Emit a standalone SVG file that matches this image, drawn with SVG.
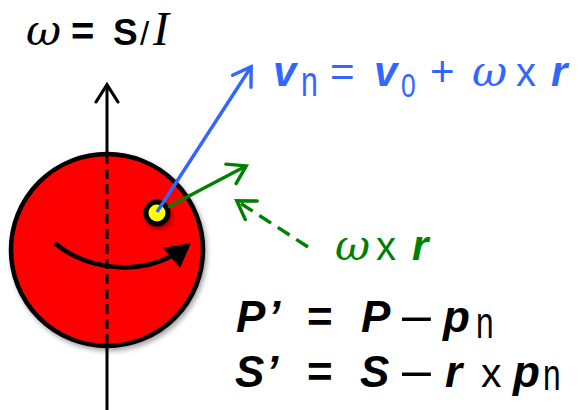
<svg xmlns="http://www.w3.org/2000/svg" width="579" height="410" viewBox="0 0 579 410">
<style>
.sans{font-family:"Liberation Sans",Arial,sans-serif}
.serif{font-family:"Liberation Serif","Times New Roman",serif}
.greek{font-family:"DejaVu Serif","Liberation Serif",serif;font-style:italic}
.bi{font-weight:bold;font-style:italic}
.b{font-weight:bold}
.it{font-style:italic}
.blue{fill:#3366FF}
.green{fill:#008000}
.blk{fill:#000}
</style>
<defs>
<filter id="sh" x="-20%" y="-20%" width="150%" height="150%">
<feDropShadow dx="2" dy="3" stdDeviation="2.5" flood-color="#000" flood-opacity="0.35"/>
</filter>
<marker id="aBlack" markerUnits="userSpaceOnUse" viewBox="0 0 20 24" refX="17" refY="12" markerWidth="20" markerHeight="24" orient="auto" overflow="visible">
<path d="M0,1 L17.3,12 L0,23" fill="none" stroke="#000" stroke-width="3.2" stroke-linecap="round"/>
</marker>
<marker id="aBlue" markerUnits="userSpaceOnUse" viewBox="0 0 20 24" refX="17" refY="12" markerWidth="20" markerHeight="24" orient="auto" overflow="visible">
<path d="M0,1 L17.3,12 L0,23" fill="none" stroke="#3366FF" stroke-width="3.4" stroke-linecap="round"/>
</marker>
<marker id="aGreen" markerUnits="userSpaceOnUse" viewBox="0 0 20 24" refX="17" refY="12" markerWidth="20" markerHeight="24" orient="auto" overflow="visible">
<path d="M0,1 L17.3,12 L0,23" fill="none" stroke="#008000" stroke-width="3.4" stroke-linecap="round"/>
</marker>
</defs>

<g id="body">
<circle cx="107" cy="250" r="96" fill="#FF0000" stroke="#000" stroke-width="4.5" filter="url(#sh)"/>
</g>

<g id="axis">
<line x1="107" y1="152" x2="107" y2="85" stroke="#000" stroke-width="3" marker-end="url(#aBlack)"/>
<line x1="107" y1="154" x2="107" y2="346" stroke="#000" stroke-width="3" stroke-dasharray="10 5"/>
<line x1="107" y1="348" x2="107" y2="410" stroke="#000" stroke-width="3"/>
</g>

<g id="rotation">
<path d="M55,243 C80,265 130,278 172,256" fill="none" stroke="#000" stroke-width="4.5"/>
<polygon points="191,243 163,248 180,268" fill="#000"/>
</g>

<g id="point">
<circle cx="157" cy="213" r="11" fill="#FFFF00" stroke="#000" stroke-width="5" filter="url(#sh)"/>
</g>

<g id="connectors">
<line x1="157" y1="212" x2="251" y2="67" stroke="#3366FF" stroke-width="3.4" marker-end="url(#aBlue)"/>
<line x1="168" y1="207" x2="246" y2="166" stroke="#008000" stroke-width="3.4" marker-end="url(#aGreen)"/>
<line x1="308" y1="247" x2="237" y2="201" stroke="#008000" stroke-width="3.4" stroke-dasharray="14 8" marker-end="url(#aGreen)"/>
</g>

<g id="label-omega">
<text x="26" y="45" class="greek blk" font-size="43">ω</text>
<text x="71" y="45" class="sans b blk" font-size="40">=</text>
<text x="113" y="45" class="sans b blk" font-size="37">S</text>
<text x="140" y="45" class="sans blk" font-size="33">/</text>
<text x="153" y="45" class="serif it blk" font-size="48">I</text>
</g>

<g id="label-vn">
<text x="273" y="86" class="sans bi blue" font-size="42">v</text>
<text transform="translate(301,96) scale(0.72,1)" class="sans blue" font-size="42">n</text>
<text x="330" y="86" class="sans blue" font-size="42">=</text>
<text x="374" y="86" class="sans bi blue" font-size="42">v</text>
<text transform="translate(401,97) scale(0.8,1)" class="sans blue" font-size="33">0</text>
<text x="430" y="86" class="sans blue" font-size="42">+</text>
<text x="472" y="86" class="greek blue" font-size="43">ω</text>
<text x="516" y="86" class="sans blue" font-size="40">x</text>
<text x="551" y="86" class="sans bi blue" font-size="42">r</text>
</g>

<g id="label-wxr">
<text x="335" y="260" class="greek green" font-size="43">ω</text>
<text x="376" y="260" class="sans green" font-size="40">x</text>
<text x="412" y="260" class="sans bi green" font-size="42">r</text>
</g>

<g id="label-P">
<text x="236" y="332" class="sans bi blk" font-size="44">P</text>
<text x="268" y="332" class="sans bi blk" font-size="44">’</text>
<text x="307" y="332" class="sans b blk" font-size="44">=</text>
<text x="361" y="332" class="sans bi blk" font-size="44">P</text>
<text x="402" y="332" class="sans blk" font-size="52">–</text>
<text x="443" y="332" class="sans bi blk" font-size="44">p</text>
<text transform="translate(476,338) scale(0.72,1)" class="sans blk" font-size="44">n</text>
</g>

<g id="label-S">
<text x="235" y="387" class="sans bi blk" font-size="44">S</text>
<text x="266" y="387" class="sans bi blk" font-size="44">’</text>
<text x="307" y="387" class="sans b blk" font-size="44">=</text>
<text x="360" y="387" class="sans bi blk" font-size="44">S</text>
<text x="402" y="387" class="sans blk" font-size="52">–</text>
<text x="445" y="387" class="sans bi blk" font-size="44">r</text>
<text x="481" y="387" class="sans blk" font-size="41">x</text>
<text x="513" y="387" class="sans bi blk" font-size="44">p</text>
<text transform="translate(543,390) scale(0.72,1)" class="sans blk" font-size="44">n</text>
</g>
</svg>
